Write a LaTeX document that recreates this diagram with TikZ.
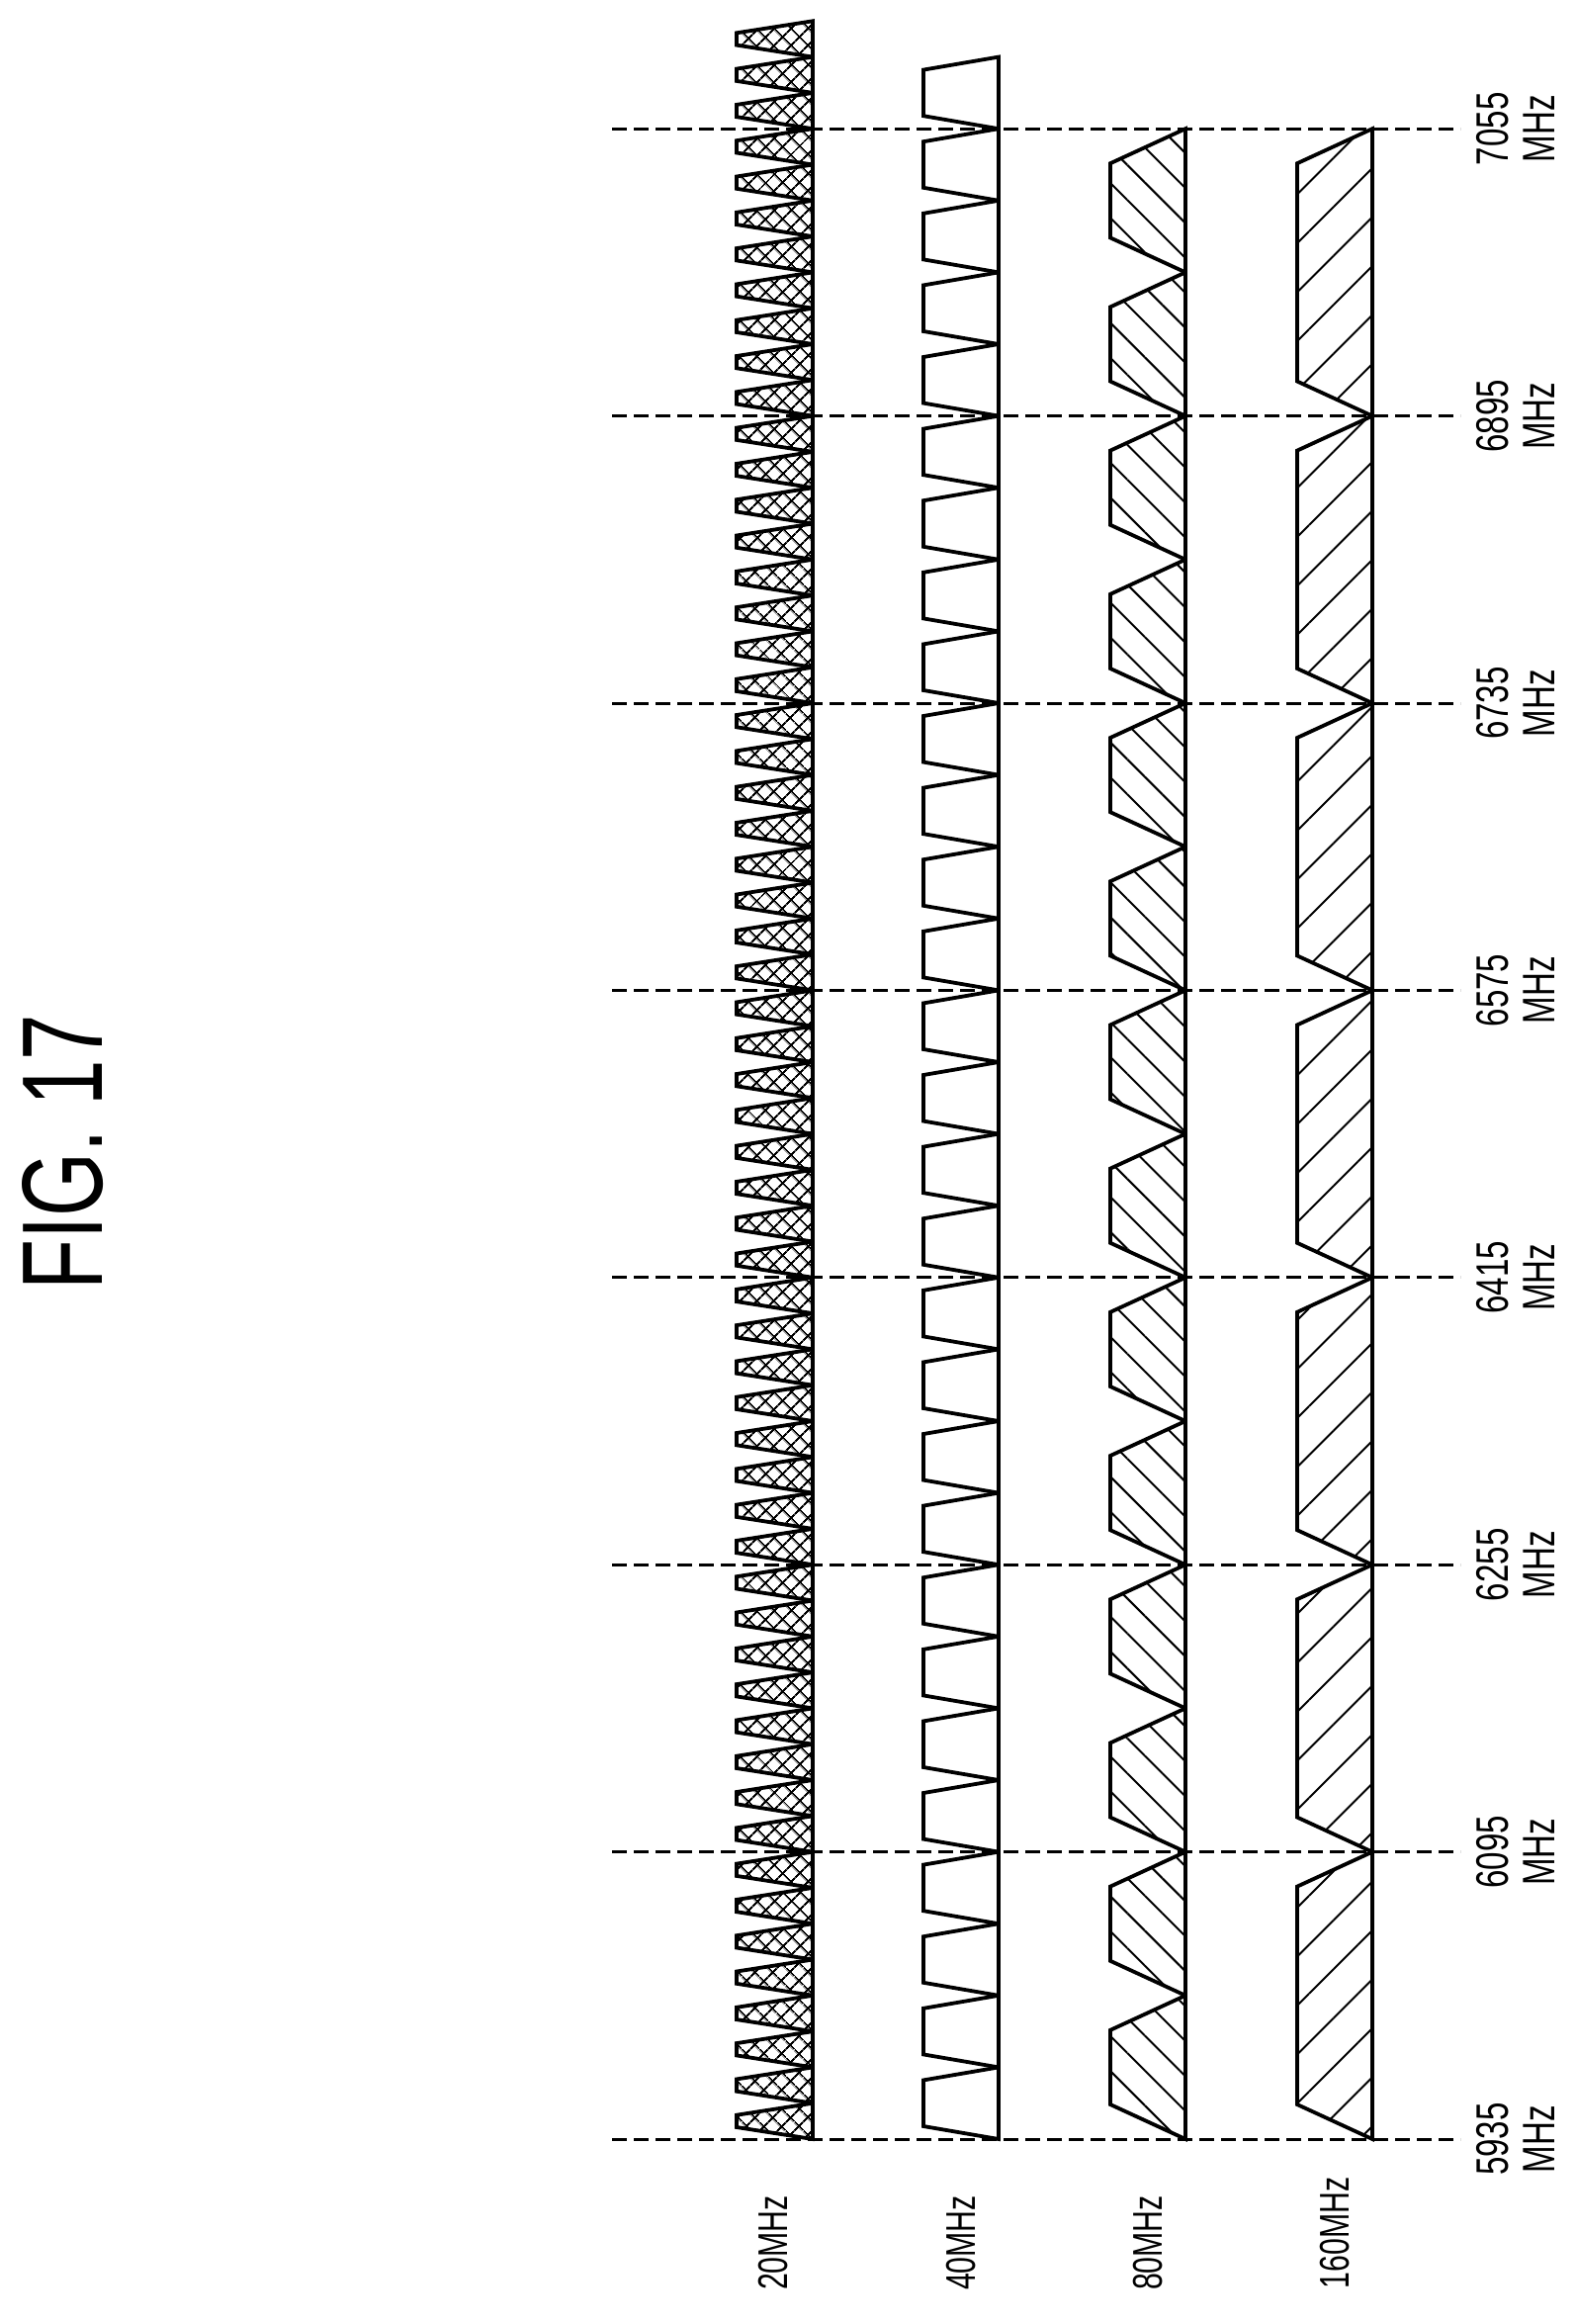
\documentclass[tikz,border=0pt]{standalone}
\usepackage{fontspec}
\setmainfont{Liberation Sans}
\newfontfamily\narrowfont[FakeStretch=0.72]{Liberation Sans}
\usetikzlibrary{patterns.meta}
\tikzset{
  chan/.style={line width=3.8pt, line join=miter},
  grid20/.style={chan, pattern={Hatch[angle=45,distance=13pt,line width=2pt]}},
  hatch80/.style={chan, pattern={Lines[angle=-45,distance=25pt,line width=2pt]}},
  hatch160/.style={chan, pattern={Lines[angle=45,distance=35pt,line width=2pt]}},
  plain40/.style={chan},
  freqline/.style={line width=3pt, dash pattern=on 15pt off 7pt},
  freqlab/.style={rotate=90, align=center, font=\narrowfont\fontsize{46}{47}\selectfont, inner sep=0pt},
  rowlab/.style={rotate=90, font=\narrowfont\fontsize{42}{42}\selectfont, inner sep=0pt},
}
\begin{document}
\begin{tikzpicture}[x=1pt,y=-1pt]
\useasboundingbox (0,0) rectangle (1594,2350);
\node[rotate=90, font=\narrowfont\fontsize{116}{116}\selectfont, inner sep=0pt] (fig) at (64,1165) {FIG. 17};
% dashed frequency lines
\foreach \i in {0,...,7}{
  \pgfmathsetmacro{\yy}{2163-290.4*\i}
  \pgfmathtruncatemacro{\ff}{5935+160*\i}
  \coordinate (l\i) at (619,\yy);
  \coordinate (r\i) at (1477,\yy);
  \draw[freqline] (l\i) -- (r\i);
  \node[freqlab] (f\i) at (1533,\yy) {\ff\\MHz};
}
% 20 MHz
\foreach \i in {0,...,58}{
  \pgfmathsetmacro{\ya}{2163-36.3*\i}
  \pgfmathsetmacro{\yb}{\ya-36.3}
  \draw[grid20] (822,\ya) -- (745,\ya-12) -- (745,\yb+12) -- (822,\yb) -- cycle;
}
% 40 MHz
\foreach \i in {0,...,28}{
  \pgfmathsetmacro{\ya}{2163-72.6*\i}
  \pgfmathsetmacro{\yb}{\ya-72.6}
  \draw[plain40] (1010,\ya) -- (934,\ya-13) -- (934,\yb+13) -- (1010,\yb) -- cycle;
}
% 80 MHz
\foreach \i in {0,...,13}{
  \pgfmathsetmacro{\ya}{2163-145.2*\i}
  \pgfmathsetmacro{\yb}{\ya-145.2}
  \draw[hatch80] (1199,\ya) -- (1123,\ya-35) -- (1123,\yb+35) -- (1199,\yb) -- cycle;
}
% 160 MHz
\foreach \i in {0,...,6}{
  \pgfmathsetmacro{\ya}{2163-290.4*\i}
  \pgfmathsetmacro{\yb}{\ya-290.4}
  \draw[hatch160] (1388,\ya) -- (1312,\ya-35) -- (1312,\yb+35) -- (1388,\yb) -- cycle;
}
\node[rowlab] (b20) at (782,2268) {20MHz};
\node[rowlab] (b40) at (972,2268) {40MHz};
\node[rowlab] (b80) at (1161,2268) {80MHz};
\node[rowlab] (b160) at (1350,2258) {160MHz};
\end{tikzpicture}
\end{document}
